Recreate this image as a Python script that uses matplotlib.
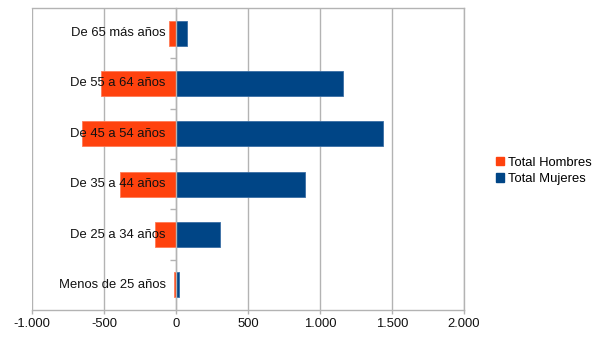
import numpy as np
import matplotlib
matplotlib.use("Agg")
import matplotlib.pyplot as plt
from matplotlib.ticker import FuncFormatter, FixedLocator
from matplotlib.patches import Patch

plt.rcParams['font.family'] = ['Liberation Sans', 'DejaVu Sans']

# age groups, from the top row down
grupos = ["De 65 más años", "De 55 a 64 años", "De 45 a 54 años",
          "De 35 a 44 años", "De 25 a 34 años", "Menos de 25 años"]
hombres = [-50, -523, -653, -389, -144, -14]
mujeres = [75, 1160, 1437, 894, 303, 19]

color_h = "#ff420e"
color_m = "#004586"
gris = "#b3b3b3"
fs = 9.4

fig = plt.figure(figsize=(6.05, 3.4), dpi=100)
ax = fig.add_axes([32 / 605, 30 / 340, 432 / 605, 302 / 340])

y = np.arange(len(grupos))[::-1]
ax.barh(y, hombres, height=0.5, color=color_h, edgecolor="#ff7a55", linewidth=0.6, zorder=2)
ax.barh(y, mujeres, height=0.5, color=color_m, edgecolor="#3a6ea5", linewidth=0.6, zorder=2)

ax.set_xlim(-1000, 2000)
ax.set_ylim(-0.5, len(grupos) - 0.5)
ax.set_xticks([-1000, -500, 0, 500, 1000, 1500, 2000])
ax.xaxis.set_major_formatter(FuncFormatter(lambda v, p: f"{int(v):,}".replace(",", ".")))
ax.grid(axis="x", color=gris, linewidth=1, zorder=0)

# category axis sits on the zero line
ax.spines['left'].set_position(('data', 0))
for s in ax.spines.values():
    s.set_color(gris)
    s.set_linewidth(1)
ax.spines['left'].set_zorder(3)

ax.set_yticks([])
ax.yaxis.set_minor_locator(FixedLocator(np.arange(0.5, len(grupos) - 1, 1)))
ax.tick_params(axis="y", which="minor", length=4.5, color=gris, width=1)
ax.tick_params(axis="x", length=3, color=gris, width=1, labelsize=fs, labelcolor="#111111", pad=3)

# category names drawn over the bars, right-aligned at the zero line
for yi, g in zip(y, grupos):
    ax.annotate(g, xy=(0, yi), xytext=(-7.5, 0), textcoords="offset points",
                ha="right", va="center", fontsize=fs, color="#111111", zorder=6)

handles = [Patch(facecolor=color_h, edgecolor=color_h), Patch(facecolor=color_m, edgecolor=color_m)]
fig.legend(handles, ["Total Hombres", "Total Mujeres"], loc="center left",
           bbox_to_anchor=(496 / 605, 1 - 171 / 340), frameon=False, fontsize=fs,
           handlelength=0.65, handleheight=0.65, handletextpad=0.25, labelspacing=0.35,
           borderpad=0, borderaxespad=0)

fig.savefig("out.png", dpi=100)
